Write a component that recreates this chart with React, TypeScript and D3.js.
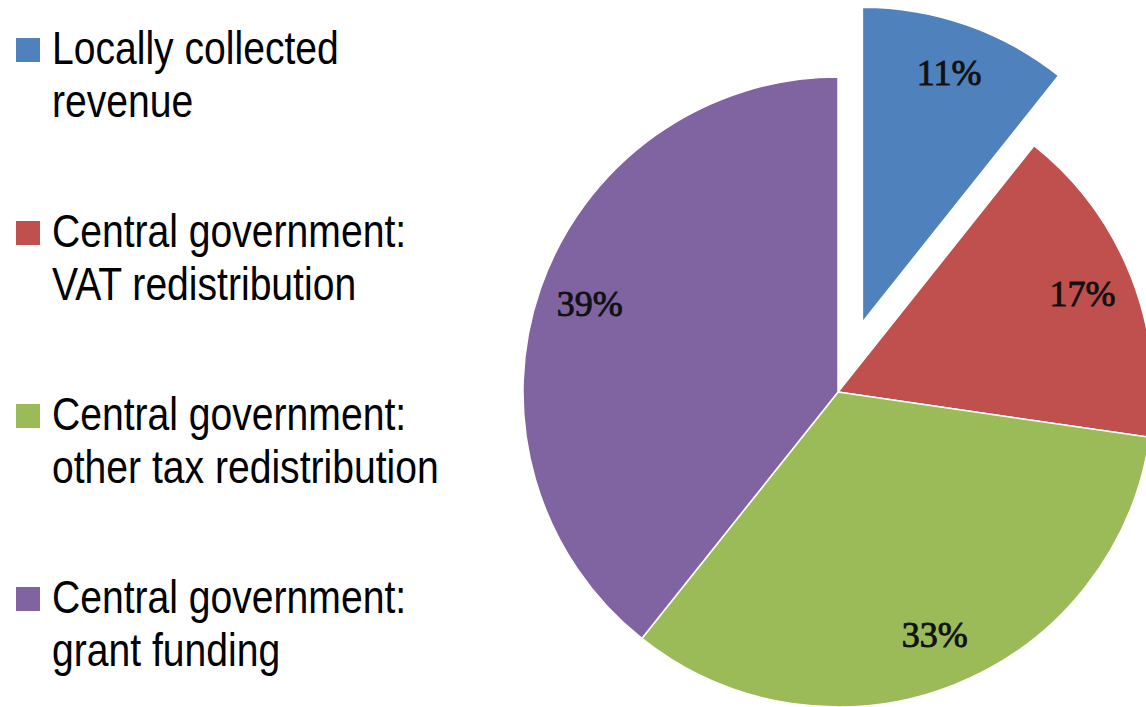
import React, { useEffect, useRef } from 'react';
import * as d3 from 'd3';

const categories = [
  ['Locally collected', 'revenue'],
  ['Central government:', 'VAT redistribution'],
  ['Central government:', 'other tax redistribution'],
  ['Central government:', 'grant funding'],
];
const shares = [10.7, 16.6, 33.4, 39.3];
const colors = ['#4F81BD', '#C0504D', '#9BBB59', '#8064A2'];

const W = 1146;
const H = 707;

const App = () => {
  const ref = useRef(null);

  useEffect(() => {
    document.body.style.margin = '0';
    const svg = d3.select(ref.current);
    svg.selectAll('*').remove();

    const cx = 838;
    const cy = 392;
    const r = 315;
    const explode = 74;

    const pie = d3.pie<number>().sort(null).value(d => d);
    const arcs = pie(shares);
    const arc = d3.arc<any>().innerRadius(0).outerRadius(r);
    const labelArc = d3.arc<any>().innerRadius(263).outerRadius(263);

    const g = svg.append('g').attr('transform', `translate(${cx},${cy})`);

    const slice = g.selectAll('g.slice')
      .data(arcs)
      .enter().append('g')
      .attr('class', 'slice')
      .attr('transform', (d, i) => {
        if (i !== 0) return null;
        const a = (d.startAngle + d.endAngle) / 2;
        return `translate(${Math.sin(a) * explode},${-Math.cos(a) * explode})`;
      });

    slice.append('path')
      .attr('d', arc)
      .attr('fill', (d, i) => colors[i])
      .attr('stroke', '#fff')
      .attr('stroke-width', 1.5)
      .attr('stroke-linejoin', 'round');

    slice.append('text')
      .attr('transform', d => `translate(${labelArc.centroid(d)})`)
      .attr('text-anchor', 'middle')
      .attr('dy', '0.3em')
      .style('font-family', "'Liberation Serif', 'Times New Roman', serif")
      .style('font-size', '36px')
      .style('fill', '#111')
      .style('stroke', '#111')
      .style('stroke-width', 0.9)
      .text(d => `${Math.round(d.data)}%`);

    // legend
    const legend = svg.append('g');
    const item = legend.selectAll('g')
      .data(categories)
      .enter().append('g')
      .attr('transform', (d, i) => `translate(0,${64 + i * 183})`);

    item.append('rect')
      .attr('x', 16)
      .attr('y', -26)
      .attr('width', 24)
      .attr('height', 24)
      .attr('fill', (d, i) => colors[i]);

    // no narrow font installed, so squeeze Liberation Sans horizontally
    item.selectAll('text')
      .data(d => d)
      .enter().append('text')
      .attr('transform', (d, j) => `translate(52,${j * 53}) scale(0.85,1)`)
      .style('font-family', "'Liberation Sans Narrow', 'Liberation Sans', sans-serif")
      .style('font-size', '46px')
      .style('fill', '#000')
      .text(d => d);
  }, []);

  return <svg ref={ref} width={W} height={H} style={{ display: 'block', background: '#fff' }}></svg>;
};

export default App;
